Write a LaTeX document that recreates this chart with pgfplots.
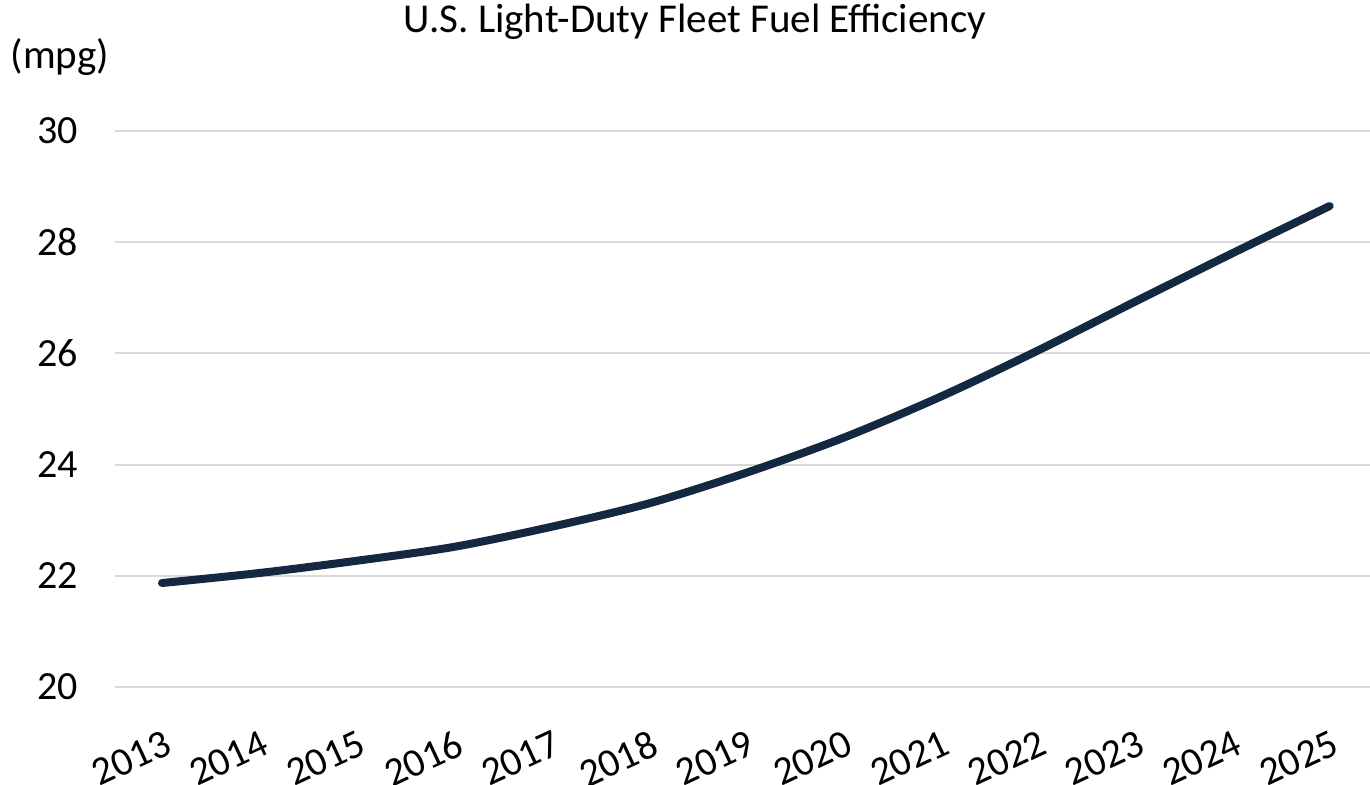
\documentclass[border=0pt]{standalone}
\usepackage{fontspec}
\setmainfont{Carlito}
\usepackage{pgfplots}
\pgfplotsset{compat=1.18}
\definecolor{navy}{RGB}{20,40,66}
\definecolor{gridgray}{RGB}{217,217,217}
\begin{document}
\begin{tikzpicture}
\path[use as bounding box] (-57.5pt,-49pt) rectangle (627.5pt,343.5pt);
\begin{axis}[
  at={(0pt,0pt)}, anchor=south west,
  scale only axis,
  width=627.5pt, height=278pt,
  xmin=-0.483, xmax=12.415,
  ymin=20, ymax=30,
  ytick={20,22,...,30},
  xtick={0,...,12},
  xticklabels={2013,2014,2015,2016,2017,2018,2019,2020,2021,2022,2023,2024,2025},
  axis line style={draw=none},
  major tick length=0pt,
  ymajorgrids,
  major grid style={gridgray, line width=1pt},
  /pgf/number format/assume math mode=true,
  tick label style={font=\fontsize{20}{24}\selectfont, text=black},
  yticklabel style={anchor=east, xshift=-15pt},
  xticklabel style={rotate=25, anchor=north east, inner sep=0pt, yshift=-19pt, xshift=-8.5pt},
  clip=false,
]
\addplot[navy, line width=4pt, smooth, tension=0.5, line cap=round] coordinates {
  (0,21.87) (1,22.05) (2,22.27) (3,22.52) (4,22.88) (5,23.3) (6,23.85)
  (7,24.48) (8,25.22) (9,26.05) (10,26.93) (11,27.8) (12,28.65)
};
\end{axis}
\node[font=\fontsize{20.5}{24}\selectfont] at (290pt,332.5pt) {U.S. Light-Duty Fleet Fuel Efficiency};
\node[font=\fontsize{20.5}{24}\selectfont] at (-27.5pt,315pt) {(mpg)};
\end{tikzpicture}
\end{document}
